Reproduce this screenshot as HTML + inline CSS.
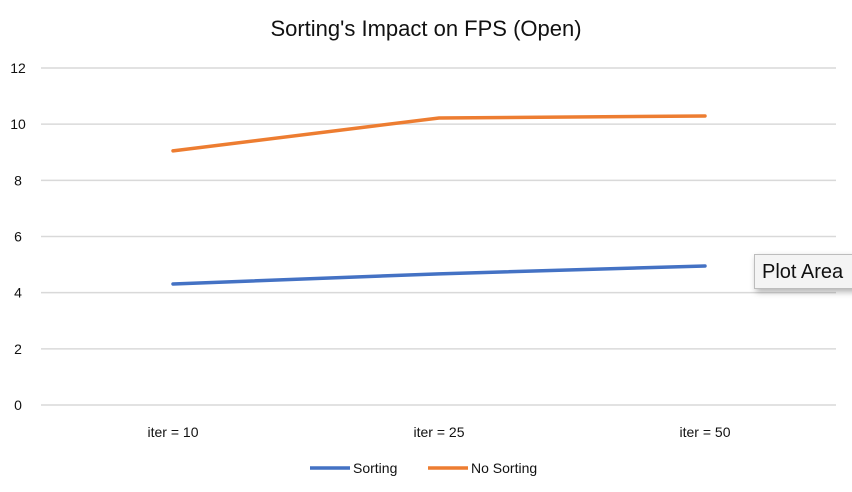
<!DOCTYPE html>
<html><head><meta charset="utf-8"><style>
body{margin:0;width:852px;height:492px;background:#fff;overflow:hidden;font-family:"Liberation Sans",sans-serif;}
svg{position:absolute;left:0;top:0}
#tip{position:absolute;left:754px;top:254px;width:110px;height:35px;background:#f4f4f4;border:1px solid #bdbdbd;box-shadow:2px 3px 6px rgba(0,0,0,0.3);font-size:20px;line-height:35px;padding-left:7px;color:#111;box-sizing:border-box}
</style></head><body>
<svg id="c" width="852" height="492"></svg>
<div id="tip">Plot Area</div>
<script>
const categories=["iter = 10","iter = 25","iter = 50"];
const sorting=[4.31,4.67,4.95];
const noSorting=[9.05,10.22,10.29];
const yTicks=[0,2,4,6,8,10,12];
const NS="http://www.w3.org/2000/svg";
const svg=document.getElementById('c');
const x0=40,x1=838,yTop=68,yBot=405,yMax=12;
const bw=(x1-x0)/categories.length;
const xs=i=>x0+bw*(i+0.5);
const ys=v=>yBot-(v/yMax)*(yBot-yTop);
function mk(t,a,txt){const e=document.createElementNS(NS,t);for(const k in a)e.setAttribute(k,a[k]);if(txt!=null)e.textContent=txt;svg.appendChild(e);return e;}
let t=mk('text',{x:426,y:36,'text-anchor':'middle','font-size':22,fill:'#111'},"Sorting's Impact on FPS (Open)");


yTicks.forEach(v=>{
 let l=mk('line',{x1:41,x2:836,y1:ys(v),y2:ys(v),stroke:'#d9d9d9','stroke-width':1.5});
 
 
 let tx=mk('text',{x:18,y:ys(v)+5,'text-anchor':'middle','font-size':14,fill:'#111'},String(v));
 
 
});
categories.forEach((c,i)=>{
 let tx=mk('text',{x:xs(i),y:437,'text-anchor':'middle','font-size':14,fill:'#111'},c);
 
 
});
function series(vals,color,name){
 let p=mk('polyline',{points:vals.map((v,i)=>xs(i)+','+ys(v)).join(' '),fill:'none',stroke:color,'stroke-width':3.5,'stroke-linecap':'round'});
 
 
}
series(sorting,'#4472c4','sorting-line');
series(noSorting,'#ed7d31','no-sorting-line');
[[310,'#4472c4','Sorting','legend-sorting'],[428,'#ed7d31','No Sorting','legend-no-sorting']].forEach(([x,c,lbl,n])=>{
 let g=document.createElementNS(NS,'g');svg.appendChild(g);
 
 
 let l=document.createElementNS(NS,'line');
 [['x1',x],['x2',x+40],['y1',468],['y2',468],['stroke',c],['stroke-width',3.5]].forEach(([k,v])=>l.setAttribute(k,v));
 g.appendChild(l);
 let tx=document.createElementNS(NS,'text');
 [['x',x+43],['y',473],['font-size',14],['fill','#111']].forEach(([k,v])=>tx.setAttribute(k,v));
 tx.textContent=lbl;g.appendChild(tx);
});
</script>
</body></html>
